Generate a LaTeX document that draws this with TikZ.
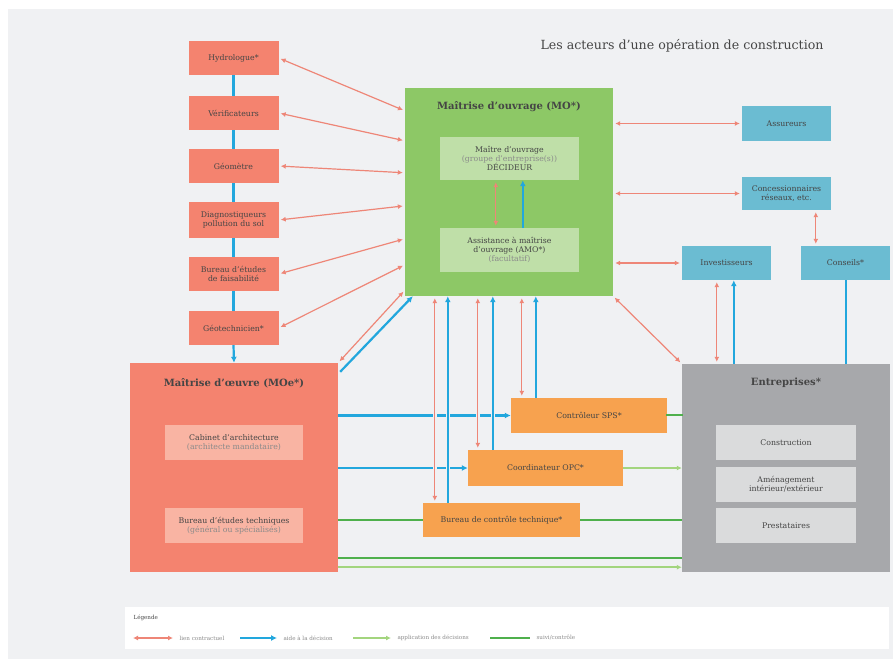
\documentclass[tikz,border=0pt]{standalone}
\usepackage{fontspec}
\setmainfont{DejaVu Serif}
\usetikzlibrary{arrows.meta,calc}
\definecolor{bgc}{HTML}{F0F1F3}
\definecolor{salmon}{HTML}{F4836F}
\definecolor{salmonlt}{HTML}{F9B4A3}
\definecolor{greenbox}{HTML}{8DC866}
\definecolor{greenlt}{HTML}{BFDFA8}
\definecolor{orangebox}{HTML}{F7A24F}
\definecolor{bluebox}{HTML}{6BBCD2}
\definecolor{greybox}{HTML}{A7A8AB}
\definecolor{greylt}{HTML}{DADBDC}
\definecolor{lienc}{HTML}{EE8677}
\definecolor{aidec}{HTML}{22A7DD}
\definecolor{applic}{HTML}{A3D57E}
\definecolor{suivic}{HTML}{4FB04C}
\definecolor{txt}{HTML}{454545}
\definecolor{txtlt}{HTML}{8A8A8A}
\tikzset{
  box/.style={draw=none, inner sep=1pt, align=center, text=txt, font=\fontsize{7.8}{9}\selectfont},
  lbox/.style={box, fill=salmon, minimum width=90pt},
  bbox/.style={box, fill=bluebox, minimum width=89pt},
  obox/.style={box, fill=orangebox},
  bigbox/.style={draw=none, minimum width=208pt, minimum height=208pt},
  ttl/.style={font=\fontsize{10}{12}\selectfont\bfseries, text=txt},
  lien/.style={draw=lienc, line width=1.2pt, shorten <=2pt, shorten >=2pt, {Latex[length=5pt,width=5pt]}-{Latex[length=5pt,width=5pt]}},
  aide/.style={draw=aidec, line width=2.2pt, -{Latex[length=6pt,width=6pt]}},
  aideplain/.style={draw=aidec, line width=2.2pt},
  appli/.style={draw=applic, line width=1.5pt, -{Latex[length=5pt,width=5pt]}},
  suivi/.style={draw=suivic, line width=1.8pt},
  halo/.style={preaction={draw=bgc, line width=4.5pt, -, shorten <=4pt, shorten >=4pt}},
  legtxt/.style={anchor=west, text=txtlt, font=\fontsize{5.6}{6.6}\selectfont},
}
\begin{document}
\begin{tikzpicture}[x=1pt,y=-1pt]
\fill[white] (0,0) rectangle (893,659);
\fill[bgc] (8,9) rectangle (893,659);
\useasboundingbox (0,0) rectangle (893,659);

% title
\node[anchor=west, text=txt, font=\fontsize{12.6}{14}\selectfont] (title) at (537,46) {Les acteurs d'une opération de construction};

% left column
\node[lbox, minimum height=34pt] (g1) at (233.5,58) {Hydrologue*};
\node[lbox, minimum height=34pt] (g2) at (233.5,113) {Vérificateurs};
\node[lbox, minimum height=34pt] (g3) at (233.5,166) {Géomètre};
\node[lbox, minimum height=36pt] (g4) at (233.5,220) {Diagnostiqueurs\\pollution du sol};
\node[lbox, minimum height=34pt] (g5) at (233.5,274) {Bureau d'études\\de faisabilité};
\node[lbox, minimum height=34pt] (g6) at (233.5,328) {Géotechnicien*};

% MO
\node[bigbox, fill=greenbox] (mo) at (509,192) {};
\node[ttl] (mot) at (509,107) {Maîtrise d'ouvrage (MO*)};
\node[box, fill=greenlt, minimum width=139pt, minimum height=43pt] (mo1) at (509.5,158.5) {Maître d'ouvrage\\{\color{txtlt}(groupe d'entreprise(s))}\\DÉCIDEUR};
\node[box, fill=greenlt, minimum width=139pt, minimum height=44pt] (mo2) at (509.5,250) {Assistance à maîtrise\\d'ouvrage (AMO*)\\{\color{txtlt}(facultatif)}};

% MOE
\node[bigbox, fill=salmon, minimum height=209pt] (moe) at (234,467.5) {};
\node[ttl] (moet) at (234,383) {Maîtrise d'œuvre (MOe*)};
\node[box, fill=salmonlt, minimum width=138pt, minimum height=35pt] (moe1) at (234,442.5) {Cabinet d'architecture\\{\color{txtlt}(architecte mandataire)}};
\node[box, fill=salmonlt, minimum width=138pt, minimum height=35pt] (moe2) at (234,525.5) {Bureau d'études techniques\\{\color{txtlt}(général ou spécialisés)}};

% Entreprises
\node[bigbox, fill=greybox] (ent) at (786,468) {};
\node[ttl] (entt) at (786,383) {Entreprises*};
\node[box, fill=greylt, minimum width=140pt, minimum height=35pt] (e1) at (786,442.5) {Construction};
\node[box, fill=greylt, minimum width=140pt, minimum height=35pt] (e2) at (786,484.5) {Aménagement\\intérieur/extérieur};
\node[box, fill=greylt, minimum width=140pt, minimum height=35pt] (e3) at (786,525.5) {Prestataires};

% orange
\node[obox, minimum width=156pt, minimum height=35pt] (sps) at (589,415.5) {Contrôleur SPS*};
\node[obox, minimum width=155pt, minimum height=36pt] (opc) at (545.5,468) {Coordinateur OPC*};
\node[obox, minimum width=157pt, minimum height=34pt] (bct) at (501.5,520) {Bureau de contrôle technique*};

% blue boxes
\node[bbox, minimum height=35pt] (as) at (786.5,123.5) {Assureurs};
\node[bbox, minimum height=33pt] (co) at (786.5,193.5) {Concessionnaires\\réseaux, etc.};
\node[bbox, minimum height=34pt] (inv) at (726.5,263) {Investisseurs};
\node[bbox, minimum height=34pt] (cs) at (845.5,263) {Conseils*};

% left column chain
\draw[aideplain] (g1.south) -- (g2.north);
\draw[aideplain] (g2.south) -- (g3.north);
\draw[aideplain] (g3.south) -- (g4.north);
\draw[aideplain] (g4.south) -- (g5.north);
\draw[aideplain] (g5.south) -- (g6.north);
\draw[aide] (g6.south) -- (moe.north);

% left boxes to MO
\draw[lien] (g1.east) -- ($(mo.north west)+(0,23)$);
\draw[lien] (g2.east) -- ($(mo.north west)+(0,53)$);
\draw[lien] (g3.east) -- ($(mo.north west)+(0,85)$);
\draw[lien] (g4.east) -- ($(mo.north west)+(0,118)$);
\draw[lien] (g5.east) -- ($(mo.north west)+(0,151)$);
\draw[lien] (g6.east) -- ($(mo.north west)+(0,177)$);

% MOE to MO
\draw[lien] (moe.north east) -- ($(mo.south west)+(0,-6)$);
\draw[aide] ($(moe.north east)+(2,9)$) -- ($(mo.south west)+(8,0)$);

% inside MO
\draw[lien] ($(mo1.south west)+(56,0)$) coordinate (m1) -- (m1 |- mo2.north);
\draw[aide] ($(mo2.north west)+(83,0)$) coordinate (m2) -- (m2 |- mo1.south);

% horizontal links from MOE
\draw[aide] (moe.east |- sps.west) -- (sps.west);
\draw[aide] (moe.east |- opc.west) -- (opc.west);
\draw[suivi] (moe.east |- bct.west) -- (bct.west);
\draw[suivi] (bct.east) -- (ent.west |- bct.east);
\draw[suivi] ($(sps.east)+(-1,-0.5)$) coordinate (s1) -- ($(ent.west |- s1)+(1,0)$);
\draw[appli] (opc.east) -- (ent.west |- opc.east);
\draw[suivi] ($(moe.south east)+(0,-14)$) coordinate (b1) -- (ent.west |- b1);
\draw[appli] ($(moe.south east)+(0,-5)$) coordinate (b2) -- (ent.west |- b2);

% verticals from MO
\draw[lien, halo] ($(bct.north west)+(12,0)$) coordinate (v1) -- (v1 |- mo.south);
\draw[aide, halo] ($(bct.north west)+(25,0)$) coordinate (v2) -- (v2 |- mo.south);
\draw[lien, halo] ($(opc.north west)+(10,0)$) coordinate (v3) -- (v3 |- mo.south);
\draw[aide, halo] ($(opc.north west)+(25,0)$) coordinate (v4) -- (v4 |- mo.south);
\draw[lien] ($(sps.north west)+(11,0)$) coordinate (v5) -- (v5 |- mo.south);
\draw[aide] ($(sps.north west)+(25,0)$) coordinate (v6) -- (v6 |- mo.south);

% right side
\draw[lien] (mo.east |- as.west) -- (as.west);
\draw[lien] (mo.east |- co.west) -- (co.west);
\draw[lien] (mo.east |- inv.west) -- (inv.west);
\draw[lien] ($(co.south west)+(74,0)$) coordinate (r1) -- (r1 |- cs.north);
\draw[lien] ($(inv.south west)+(35,0)$) coordinate (r2) -- (r2 |- ent.north);
\draw[aide] ($(ent.north west)+(52,0)$) coordinate (r3) -- (r3 |- inv.south);
\draw[aideplain] ($(cs.south west)+(45,0)$) coordinate (r4) -- (r4 |- ent.north);
\draw[lien] (mo.south east) -- (ent.north west);

% legend
\node[draw=none, fill=white, minimum width=764pt, minimum height=42pt] (leg) at (507,628) {};
\node[legtxt, text=txt] (legt) at (130,618) {Légende};
\coordinate (l1a) at (133,638); \coordinate (l1b) at (173,638);
\draw[lien, shorten <=0pt, shorten >=0pt] (l1a) -- (l1b);
\node[legtxt] (lt1) at (176,638) {lien contractuel};
\coordinate (l2a) at (240,638); \coordinate (l2b) at (277,638);
\draw[aide] (l2a) -- (l2b);
\node[legtxt] (lt2) at (280,638) {aide à la décision};
\coordinate (l3a) at (353,638); \coordinate (l3b) at (391,638);
\draw[appli] (l3a) -- (l3b);
\node[legtxt] (lt3) at (394,638) {application des décisions};
\coordinate (l4a) at (490,638); \coordinate (l4b) at (530,638);
\draw[suivi] (l4a) -- (l4b);
\node[legtxt] (lt4) at (533,638) {suivi/contrôle};
\end{tikzpicture}
\end{document}
